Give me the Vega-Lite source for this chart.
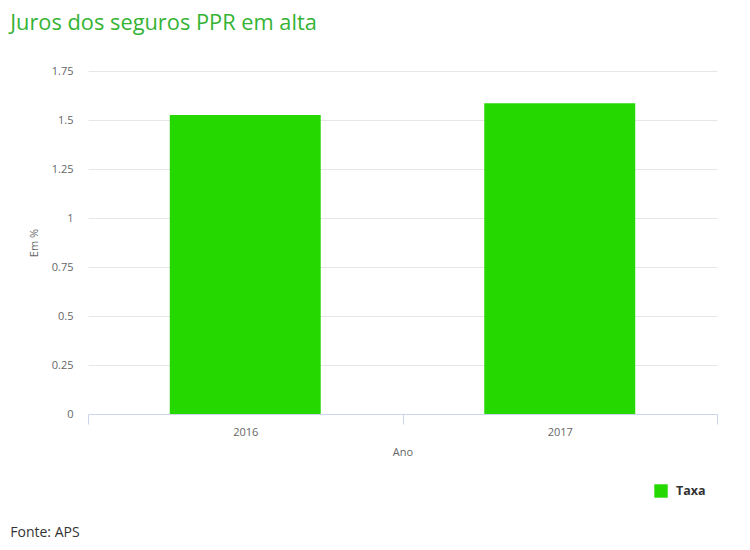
{
  "$schema": "https://vega.github.io/schema/vega-lite/v6.json",
  "background": "white",
  "padding": {"left": 10, "top": 13, "right": 10, "bottom": 5},
  "title": {
    "text": "Juros dos seguros PPR em alta",
    "anchor": "start",
    "frame": "bounds",
    "font": "Open Sans",
    "fontSize": 21.8,
    "fontWeight": "normal",
    "color": "#35b335",
    "offset": 30
  },
  "vconcat": [
    {
      "width": 629,
      "height": 343,
      "title": {
        "text": "Fonte: APS",
        "orient": "bottom",
        "anchor": "start",
        "frame": "bounds",
        "font": "Open Sans",
        "fontSize": 14,
        "fontWeight": "normal",
        "color": "#333333",
        "offset": 28,
        "dx": -18
      },
      "data": {
        "values": [
          {"Ano": "2016", "Taxa": 1.525, "Serie": "Taxa"},
          {"Ano": "2017", "Taxa": 1.586, "Serie": "Taxa"}
        ]
      },
      "mark": {"type": "bar", "width": {"band": 0.48}},
      "encoding": {
        "x": {
          "field": "Ano",
          "type": "nominal",
          "scale": {"paddingInner": 0, "paddingOuter": 0},
          "axis": {
            "title": "Ano",
            "labelAngle": 0,
            "tickBand": "extent",
            "tickSize": 10,
            "tickColor": "#ccd6eb",
            "domainColor": "#ccd6eb",
            "labelPadding": 2,
            "titlePadding": 9,
            "grid": false
          }
        },
        "y": {
          "field": "Taxa",
          "type": "quantitative",
          "scale": {"domain": [0, 1.75], "nice": false},
          "axis": {
            "title": "Em %",
            "values": [0, 0.25, 0.5, 0.75, 1, 1.25, 1.5, 1.75],
            "labelExpr": "'' + datum.value",
            "domain": false,
            "ticks": false,
            "labelPadding": 15,
            "titlePadding": 12,
            "gridColor": "#e6e6e6"
          }
        },
        "color": {
          "field": "Serie",
          "type": "nominal",
          "scale": {"range": ["#25d800"]},
          "legend": {
            "title": null,
            "orient": "none",
            "legendX": 566,
            "legendY": 413,
            "symbolType": "square",
            "symbolSize": 180,
            "symbolStrokeWidth": 0,
            "labelFont": "Open Sans",
            "labelFontSize": 12.5,
            "labelFontWeight": "bold",
            "labelColor": "#333333",
            "labelOffset": 8
          }
        }
      }
    }
  ],
  "resolve": {"legend": {"color": "independent"}},
  "config": {
    "view": {"stroke": null},
    "axis": {
      "labelFont": "Open Sans",
      "labelFontSize": 11,
      "labelColor": "#666666",
      "titleFont": "Open Sans",
      "titleFontSize": 11,
      "titleFontWeight": "normal",
      "titleColor": "#666666"
    }
  }
}
